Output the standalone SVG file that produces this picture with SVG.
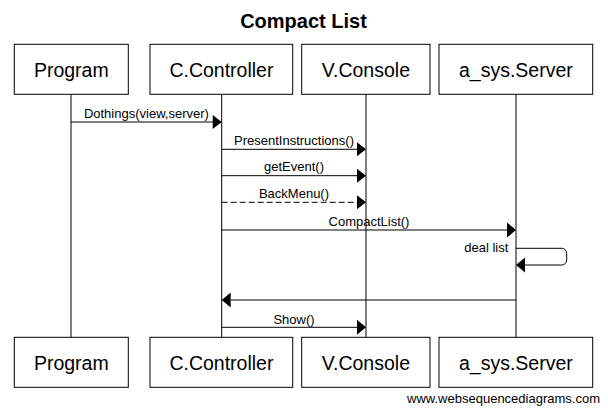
<svg xmlns="http://www.w3.org/2000/svg" width="608" height="412" viewBox="0 0 608 412">
<style>
.box{fill:#fff;stroke:#000;stroke-width:1}
.bt{font-family:"Liberation Sans",Arial,sans-serif;font-size:19.5px;text-anchor:middle;fill:#000}
.life{stroke:#000;stroke-width:1;fill:none}
.msg{stroke:#000;stroke-width:1;fill:none}
.dash{stroke-dasharray:6,3}
.lbl{font-family:"Liberation Sans",Arial,sans-serif;font-size:13px;text-anchor:middle;fill:#000}
.head{fill:#000}
</style>
<rect width="608" height="412" fill="#fff"/>
<text x="303.5" y="28" font-family="'Liberation Sans',Arial,sans-serif" font-size="20" font-weight="bold" text-anchor="middle">Compact List</text>
<g id="lifelines">
<line class="life" x1="71" y1="94.3" x2="71" y2="337.3"/>
<line class="life" x1="221.7" y1="94.3" x2="221.7" y2="337.3"/>
<line class="life" x1="366" y1="94.3" x2="366" y2="337.3"/>
<line class="life" x1="516" y1="94.3" x2="516" y2="337.3"/>
</g>
<g id="program">
<rect class="box" x="14.3" y="44.3" width="114" height="50"/>
<text class="bt" x="71.3" y="76.5">Program</text>
<rect class="box" x="14.3" y="337.3" width="114" height="50"/>
<text class="bt" x="71.3" y="369.5">Program</text>
</g>
<g id="controller">
<rect class="box" x="150" y="44.3" width="142.7" height="50"/>
<text class="bt" x="221.4" y="76.5">C.Controller</text>
<rect class="box" x="150" y="337.3" width="142.7" height="50"/>
<text class="bt" x="221.4" y="369.5">C.Controller</text>
</g>
<g id="console">
<rect class="box" x="301.7" y="44.3" width="128.3" height="50"/>
<text class="bt" x="365.9" y="76.5">V.Console</text>
<rect class="box" x="301.7" y="337.3" width="128.3" height="50"/>
<text class="bt" x="365.9" y="369.5">V.Console</text>
</g>
<g id="server">
<rect class="box" x="439" y="44.3" width="153.7" height="50"/>
<text class="bt" x="515.9" y="76.5">a_sys.Server</text>
<rect class="box" x="439" y="337.3" width="153.7" height="50"/>
<text class="bt" x="515.9" y="369.5">a_sys.Server</text>
</g>
<g id="connectors">
<line class="msg" x1="71" y1="122" x2="212.7" y2="122"/>
<polygon class="head" points="221.7,122 212.7,115 212.7,129"/>
<text class="lbl" x="146.4" y="118">Dothings(view,server)</text>

<line class="msg" x1="221.7" y1="149.3" x2="357" y2="149.3"/>
<polygon class="head" points="366,149.3 357,142.3 357,156.3"/>
<text class="lbl" x="294" y="145">PresentInstructions()</text>

<line class="msg" x1="221.7" y1="175.7" x2="357" y2="175.7"/>
<polygon class="head" points="366,175.7 357,168.7 357,182.7"/>
<text class="lbl" x="294" y="171.3">getEvent()</text>

<line class="msg dash" x1="221.7" y1="202.3" x2="357" y2="202.3"/>
<polygon class="head" points="366,202.3 357,195.3 357,209.3"/>
<text class="lbl" x="294" y="197.5">BackMenu()</text>

<line class="msg" x1="221.7" y1="230" x2="507" y2="230"/>
<polygon class="head" points="516,230 507,222.5 507,237.5"/>
<text class="lbl" x="369" y="225.5">CompactList()</text>

<path class="msg" d="M516,248.3 H561.7 A5,5 0 0 1 566.7,253.3 V260 A5,5 0 0 1 561.7,265 H525"/>
<polygon class="head" points="516,265 525,257.5 525,272.5"/>
<text class="lbl" x="508.3" y="252.3" style="text-anchor:end">deal list</text>

<line class="msg" x1="516" y1="300" x2="230.7" y2="300"/>
<polygon class="head" points="221.7,300 230.7,292.5 230.7,307.5"/>

<line class="msg" x1="221.7" y1="327.3" x2="357" y2="327.3"/>
<polygon class="head" points="366,327.3 357,319.8 357,334.8"/>
<text class="lbl" x="294" y="323.5">Show()</text>
</g>
<text x="600" y="403" font-family="'Liberation Sans',Arial,sans-serif" font-size="13" text-anchor="end">www.websequencediagrams.com</text>
</svg>
